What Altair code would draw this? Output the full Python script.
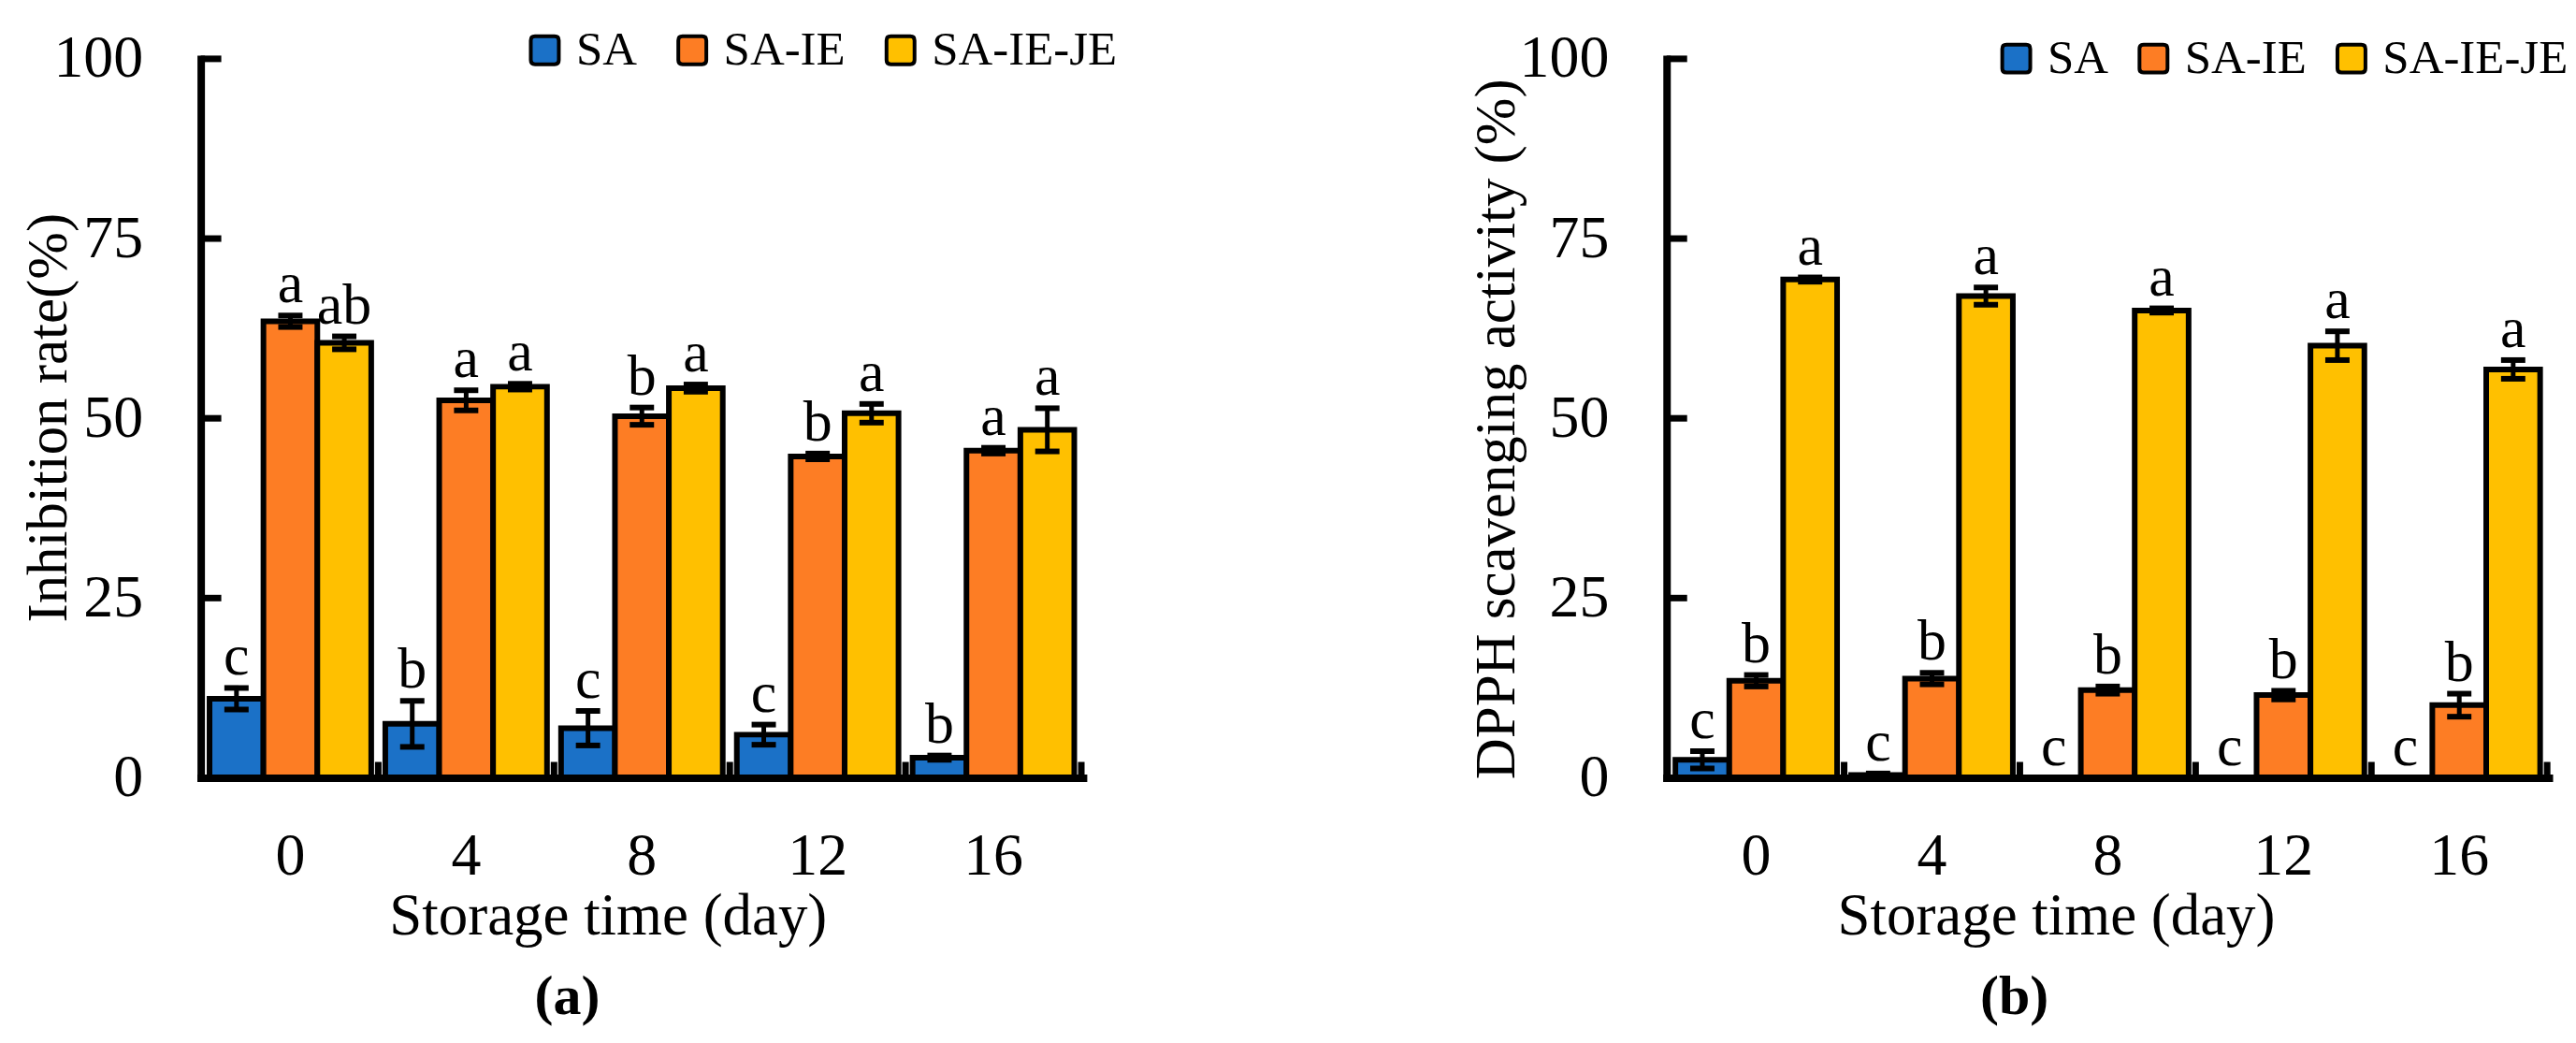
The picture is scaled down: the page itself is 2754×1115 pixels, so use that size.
import altair as alt
import pandas as pd

days = ["0", "4", "8", "12", "16"]
series = ["SA", "SA-IE", "SA-IE-JE"]
colors = ["#1b71c7", "#fd7d24", "#ffc000"]

# panel (a) Inhibition rate (%)
a_sa = [11.0, 7.5, 6.9, 6.0, 2.8]
a_sa_err = [1.5, 3.2, 2.4, 1.4, 0.3]
a_ie = [63.5, 52.5, 50.3, 44.7, 45.5]
a_ie_err = [0.8, 1.4, 1.2, 0.4, 0.4]
a_je = [60.5, 54.4, 54.2, 50.7, 48.4]
a_je_err = [0.9, 0.4, 0.5, 1.3, 3.0]
a_sa_let = ["c", "b", "c", "c", "b"]
a_ie_let = ["a", "a", "b", "b", "a"]
a_je_let = ["ab", "a", "a", "a", "a"]

# panel (b) DPPH scavenging activity (%)
b_sa = [2.5, 0.4, 0.0, 0.0, 0.0]
b_sa_err = [1.2, 0.2, 0.0, 0.0, 0.0]
b_ie = [13.5, 13.8, 12.2, 11.5, 10.1]
b_ie_err = [0.8, 0.8, 0.5, 0.6, 1.6]
b_je = [69.3, 67.0, 65.0, 60.1, 56.8]
b_je_err = [0.3, 1.2, 0.3, 2.0, 1.3]
b_sa_let = ["c", "c", "c", "c", "c"]
b_ie_let = ["b", "b", "b", "b", "b"]
b_je_let = ["a", "a", "a", "a", "a"]

y_ticks = [0, 25, 50, 75, 100]
inner_ticks = [25, 50, 75, 100]

FONT = "Liberation Serif"
W, H = 945, 770
PI, PO = 0.08, 0.05
ROUND_SQ = "M-0.7,-1H0.7Q1,-1,1,-0.7V0.7Q1,1,0.7,1H-0.7Q-1,1,-1,0.7V-0.7Q-1,-1,-0.7,-1Z"


def build_df(vals, errs, lets):
    rows = []
    for s, v_list, e_list, l_list in zip(series, vals, errs, lets):
        for d, v, e, l in zip(days, v_list, e_list, l_list):
            rows.append(dict(day=d, series=s, value=v, err=e, lo=v - e, hi=v + e, letter=l))
    return pd.DataFrame(rows)


def panel(df, ytitle, ytitle_size, caption, cap_dx, ytitle_x, ytitle_y, xtitle_x,
          leg_x, leg_y, col_pad):
    xscale = alt.Scale(paddingInner=PI, paddingOuter=PO)
    xo = alt.XOffset("series:N", sort=series, scale=alt.Scale(paddingInner=0, paddingOuter=0))
    yscale = alt.Scale(domain=[0, 100], nice=False)

    bars = alt.Chart(df).mark_bar(stroke="black", strokeWidth=6).encode(
        x=alt.X("day:N", sort=days, scale=xscale, axis=alt.Axis(
            title="Storage time (day)", labelAngle=0, labelFont=FONT, labelFontSize=64,
            labelColor="black", labelBaseline="middle", labelPadding=84, ticks=False, tickSize=0,
            domainWidth=8, domainColor="black", domainCap="square",
            titleFont=FONT, titleFontSize=63, titleFontWeight="normal", titleColor="black",
            titleX=xtitle_x, titleY=148, titleBaseline="middle", titleAlign="center", zindex=1)),
        xOffset=xo,
        y=alt.Y("value:Q", scale=yscale, axis=alt.Axis(
            values=y_ticks, title=ytitle, grid=False, ticks=False, tickSize=0,
            labelFont=FONT, labelFontSize=64, labelColor="black", labelPadding=62,
            labelBaseline="middle", domainWidth=8, domainColor="black", domainCap="square",
            titleFont=FONT, titleFontSize=ytitle_size, titleFontWeight="normal",
            titleColor="black", titleAngle=270, titleX=ytitle_x, titleY=ytitle_y,
            titleBaseline="middle", titleAlign="center", zindex=1)),
        color=alt.Color("series:N", sort=series, scale=alt.Scale(domain=series, range=colors),
                        legend=alt.Legend(title=None, orient="none", legendX=leg_x, legendY=leg_y,
                                          direction="horizontal", labelFont=FONT, labelFontSize=51,
                                          labelColor="black", labelBaseline="middle", labelLimit=0,
                                          symbolType=ROUND_SQ, symbolSize=900,
                                          symbolStrokeColor="black", symbolStrokeWidth=4,
                                          labelOffset=8, columnPadding=col_pad, padding=0)),
    )

    x_plain = alt.X("day:N", sort=days, axis=None)
    err_base = alt.Chart(df).transform_filter("datum.err > 0")
    rules = err_base.mark_rule(color="black", strokeWidth=5).encode(
        x=x_plain, xOffset=xo, y=alt.Y("lo:Q", axis=None), y2="hi:Q")
    cap_lo = err_base.mark_tick(color="black", size=26, thickness=6, opacity=1).encode(
        x=x_plain, xOffset=xo, y=alt.Y("lo:Q", axis=None))
    cap_hi = err_base.mark_tick(color="black", size=26, thickness=6, opacity=1).encode(
        x=x_plain, xOffset=xo, y=alt.Y("hi:Q", axis=None))
    letters = alt.Chart(df).mark_text(
        font=FONT, fontSize=62, color="black", baseline="alphabetic", dy=-14).encode(
        x=x_plain, xOffset=xo, y=alt.Y("hi:Q", axis=None), text="letter:N")

    # inward tick marks of the axes
    yt = alt.Chart(pd.DataFrame({"t": inner_ticks})).mark_rule(color="black", strokeWidth=7).encode(
        y=alt.Y("t:Q", axis=None), x=alt.value(0), x2=alt.value(22))
    step = W / (len(days) - PI + 2 * PO)
    xt = alt.Chart(pd.DataFrame({"day": days})).mark_rule(
        color="black", strokeWidth=7, xOffset=PI * step / 2).encode(
        x=alt.X("day:N", sort=days, bandPosition=1, axis=None),
        y=alt.value(H), y2=alt.value(H - 17))

    return alt.layer(bars, rules, cap_lo, cap_hi, letters, yt, xt).resolve_axis(
        x="independent", y="independent").properties(
        width=W, height=H,
        title=alt.TitleParams(text=caption, orient="bottom", anchor="middle", font=FONT,
                              fontSize=60, fontWeight="bold", color="black", offset=26, dx=cap_dx))


df_a = build_df([a_sa, a_ie, a_je], [a_sa_err, a_ie_err, a_je_err], [a_sa_let, a_ie_let, a_je_let])
df_b = build_df([b_sa, b_ie, b_je], [b_sa_err, b_ie_err, b_je_err], [b_sa_let, b_ie_let, b_je_let])

left = panel(df_a, "Inhibition rate(%)", 61, "(a)", -80, -162, 384, 436, 343, -35, 33)
right = panel(df_b, "DPPH scavenging activity (%)", 61, "(b)", -100, -182, 396, 417, 349, -26, 22)

chart = alt.hconcat(left, right, spacing=625, bounds="flush").resolve_scale(
    color="independent").resolve_legend(color="independent").properties(
    padding={"left": 14, "top": 19, "right": 0, "bottom": 0}, background="white"
).configure_view(strokeWidth=0)

chart.save("out.html", embed_options={"renderer": "svg", "actions": False})
